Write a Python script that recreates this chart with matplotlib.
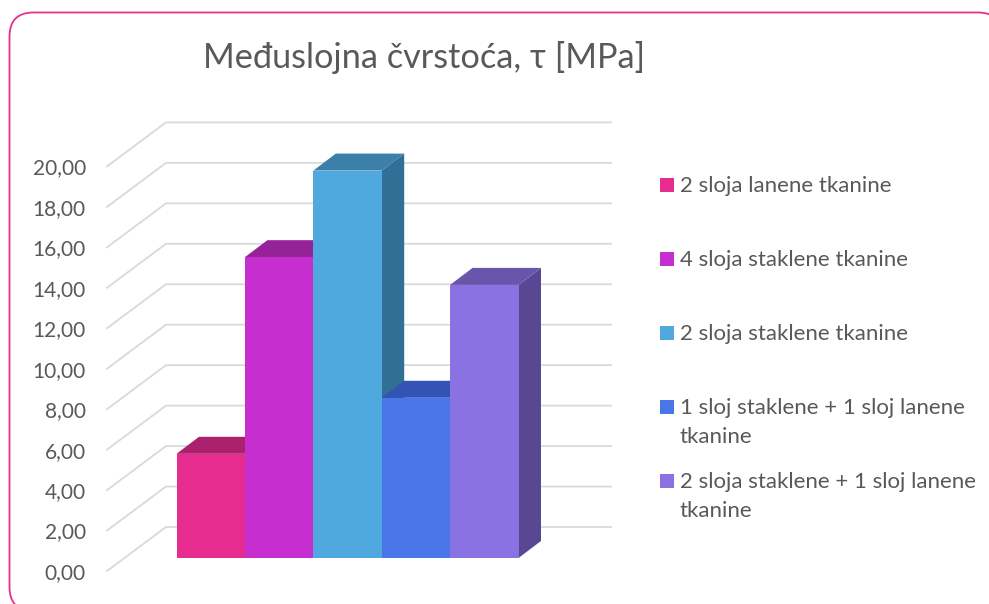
import matplotlib
matplotlib.use("Agg")
import matplotlib.pyplot as plt
from matplotlib.patches import FancyBboxPatch, Polygon, Rectangle
from matplotlib.transforms import Affine2D

plt.rcParams['font.family'] = ['Lato', 'DejaVu Sans']

title = "Međuslojna čvrstoća, τ [MPa]"
labels = ["2 sloja lanene tkanine", "4 sloja staklene tkanine", "2 sloja staklene tkanine",
          "1 sloj staklene + 1 sloj lanene\ntkanine", "2 sloja staklene + 1 sloj lanene\ntkanine"]
values = [5.15, 14.87, 19.15, 7.92, 13.5]
ticks = [0, 2, 4, 6, 8, 10, 12, 14, 16, 18, 20]
tick_labels = ["0,00", "2,00", "4,00", "6,00", "8,00", "10,00", "12,00", "14,00", "16,00", "18,00", "20,00"]
front_cols = ["#e62d8f", "#c72ecf", "#4fa8de", "#4a76ea", "#8a72e2"]
top_cols = ["#ab216e", "#962299", "#3c7fa9", "#3353b5", "#6a55ad"]
side_cols = ["#ab216e", "#962299", "#326f96", "#3353b5", "#5a4794"]

W, H = 989, 604
GREY = "#595959"
BAR_W = 68.4   # px per category
UNIT = 20.23   # px per value unit at the bar plane
X0, Y0 = 176.5, 558

fig = plt.figure(figsize=(W / 100, H / 100), dpi=100)
ax = fig.add_axes([0, 0, 1, 1])
ax.set_xlim(-X0 / BAR_W, (W - X0) / BAR_W)
ax.set_ylim(-(H - Y0) / UNIT, Y0 / UNIT)
ax.axis("off")

# pixel coords, y down, for the frame and legend
px = Affine2D().scale(1, -1).translate(0, H)

frame = FancyBboxPatch((9.5 + 24, 12.5 + 24), 1002 - 9.5 - 48, 611 - 12.5 - 48,
                       boxstyle="round,pad=24,rounding_size=24", transform=px,
                       fc="white", ec="#e8308f", lw=1.3, zorder=0, clip_on=False)
ax.add_patch(frame)

# walls and gridlines, offsets in axis units from the bar plane
x_front = (107 - X0) / BAR_W
x_back = (166 - X0) / BAR_W
x_right = (611 - X0) / BAR_W
y_front = (Y0 - 571) / UNIT
y_back = (Y0 - 527) / UNIT
for t, lab in zip(ticks, tick_labels):
    ax.plot([x_front, x_back, x_right], [t + y_front, t + y_back, t + y_back],
            color="#d9d9d9", lw=1.3, zorder=1, solid_joinstyle="miter")
    ax.text(x_front - 0.31, t + y_front - 0.1, lab, ha="right", va="center",
            fontsize=15, color=GREY)

# bars: side, top, then front, left to right so later ones cover
dx = 22.5 / BAR_W
dy = 17 / UNIT
for i, v in enumerate(values):
    z = 2 + i
    ax.add_patch(Polygon([(i + 1, 0), (i + 1 + dx, dy), (i + 1 + dx, v + dy), (i + 1, v)],
                         fc=side_cols[i], ec="none", zorder=z))
    ax.add_patch(Polygon([(i, v), (i + dx, v + dy), (i + 1 + dx, v + dy), (i + 1, v)],
                         fc=top_cols[i], ec="none", zorder=z))
    ax.bar(i, v, width=1, align="edge", color=front_cols[i], zorder=z)

ax.text(424, 57, title, transform=px, ha="center", va="center", fontsize=24.7, color=GREY)

legend_y = [185, 259, 333, 407, 481]
for lab, col, y in zip(labels, front_cols, legend_y):
    ax.add_patch(Rectangle((660, y - 7), 14, 14, transform=px, fc=col, ec="none", zorder=9))
    ax.text(680, y - 9, lab, transform=px, ha="left", va="top", fontsize=16, color=GREY,
            linespacing=1.55)

fig.savefig("out.png", dpi=100)
